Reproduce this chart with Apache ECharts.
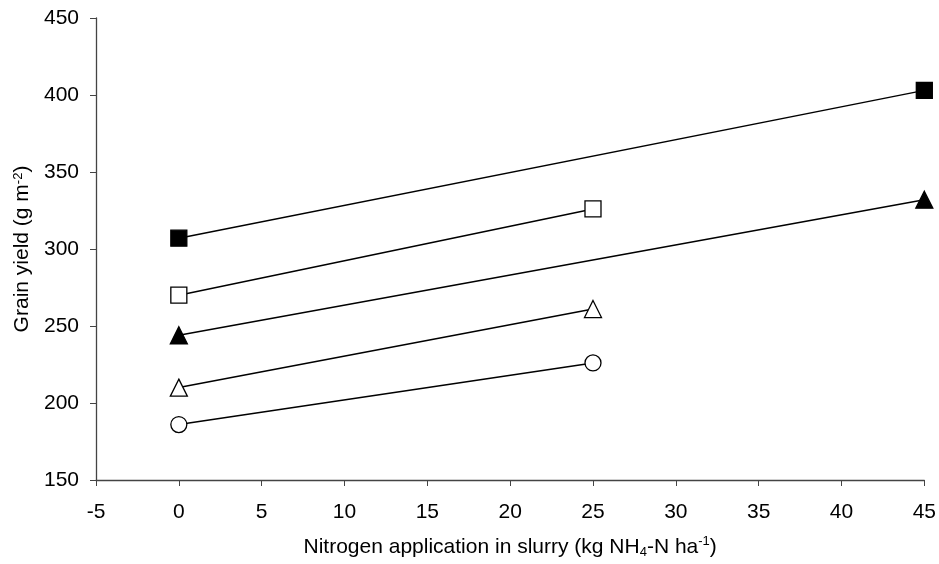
<!DOCTYPE html>
<html><head><meta charset="utf-8">
<script src="https://cdn.jsdelivr.net/npm/echarts@6/dist/echarts.min.js"></script>
<style>html,body{margin:0;padding:0;background:#fff}#c{width:939px;height:564px}</style>
</head><body><div id="c"></div>
<script>
const xFilledSquare = [0, 45];
const yFilledSquare = [307, 403];
const xOpenSquare = [0, 25];
const yOpenSquare = [270, 326];
const xFilledTriangle = [0, 45];
const yFilledTriangle = [244, 332];
const xOpenTriangle = [0, 25];
const yOpenTriangle = [210, 261];
const xOpenCircle = [0, 25];
const yOpenCircle = [186, 226];

const FONT = 'Liberation Sans, Arial, sans-serif';
function pts(xs, ys){ return xs.map((x,i)=>[x, ys[i]]); }
function ser(xs, ys, symbol, size, fill){
  return {type:'line', data: pts(xs, ys), symbol, symbolSize: size,
    lineStyle:{color:'#000', width:1.5},
    itemStyle:{color: fill, borderColor:'#000', borderWidth:1.3},
    z: 3, animation:false};
}
const chart = echarts.init(document.getElementById('c'));
chart.setOption({
  animation:false,
  grid:{left:96, right:13, top:18, bottom:82},
  xAxis:{type:'value', min:-5, max:45, interval:5,
    axisLine:{onZero:false, lineStyle:{color:'#444', width:1.3}},
    axisTick:{inside:false, length:6, lineStyle:{color:'#444'}},
    axisLabel:{color:'#000', fontSize:21, fontFamily:FONT, margin:22},
    splitLine:{show:false},
    name:'{t|Nitrogen application in slurry (kg NH}{sub|4}{t|-N ha}{sup|-1}{t|)}',
    nameLocation:'middle', nameGap:55,
    nameTextStyle:{rich:{
      t:{fontSize:21, fontFamily:FONT, color:'#000'},
      sub:{fontSize:13, fontFamily:FONT, color:'#000', verticalAlign:'bottom', padding:[11,0,0,0]},
      sup:{fontSize:13, fontFamily:FONT, color:'#000', verticalAlign:'top', padding:[0,0,9,0]}
    }}
  },
  yAxis:{type:'value', min:150, max:450, interval:50,
    axisLine:{show:true, onZero:false, lineStyle:{color:'#444', width:1.3}},
    axisTick:{show:true, inside:false, length:6, lineStyle:{color:'#444'}},
    axisLabel:{color:'#000', fontSize:21, fontFamily:FONT, margin:17},
    splitLine:{show:false},
    name:'{t|Grain yield (g m}{sup|-2}{t|)}',
    nameLocation:'middle', nameGap:62, nameRotate:90,
    nameTextStyle:{rich:{
      t:{fontSize:21, fontFamily:FONT, color:'#000'},
      sup:{fontSize:13, fontFamily:FONT, color:'#000', verticalAlign:'top', padding:[0,0,9,0]}
    }}
  },
  series:[
    ser(xFilledSquare, yFilledSquare, 'rect', 16, '#000'),
    ser(xOpenSquare, yOpenSquare, 'rect', 16, '#fff'),
    ser(xFilledTriangle, yFilledTriangle, 'triangle', 17, '#000'),
    ser(xOpenTriangle, yOpenTriangle, 'triangle', 17, '#fff'),
    ser(xOpenCircle, yOpenCircle, 'circle', 16, '#fff')
  ]
});
</script></body></html>
